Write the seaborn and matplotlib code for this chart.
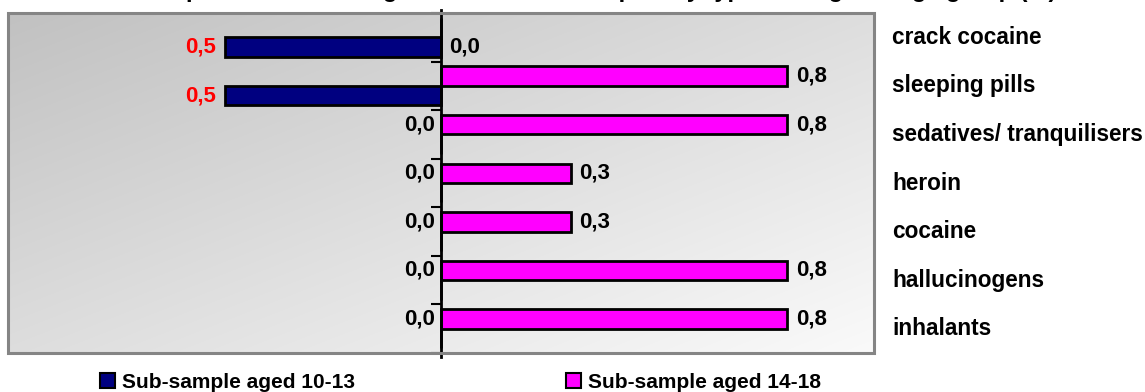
import numpy as np
import pandas as pd
import matplotlib
matplotlib.use("Agg")
import matplotlib.pyplot as plt
import matplotlib.transforms as mtransforms
from matplotlib.patches import Rectangle, Patch
import seaborn as sns

# Drug categories, top to bottom
drugs = ["crack cocaine", "sleeping pills", "sedatives/ tranquilisers",
         "heroin", "cocaine", "hallucinogens", "inhalants"]
# Lifetime prevalence (%) per sub-sample
aged_10_13 = [0.5, 0.5, 0.0, 0.0, 0.0, 0.0, 0.0]
aged_14_18 = [0.0, 0.8, 0.8, 0.3, 0.3, 0.8, 0.8]
group_names = ["Sub-sample aged 10-13", "Sub-sample aged 14-18"]
title = "Lifetime prevalence of drug use in the sub-samples by type of drug and age group (%)"

NAVY = "#000080"
PINK = "#ff00ff"

sns.set_style("white")
plt.rcParams["font.family"] = ["Liberation Sans", "DejaVu Sans"]
plt.rcParams["font.weight"] = "bold"
plt.rcParams["text.color"] = "black"

# Younger group is plotted to the left of the zero line
df = pd.DataFrame({
    "drug": drugs * 2,
    "value": [-v for v in aged_10_13] + list(aged_14_18),
    "group": [group_names[0]] * len(drugs) + [group_names[1]] * len(drugs),
})

fig = plt.figure(figsize=(11.45, 3.92), dpi=100)
ax = fig.add_axes([8 / 1145, 1 - 353 / 392, 866 / 1145, 340 / 392])

# diagonal grey gradient behind the bars: darker top-left, lighter bottom-right
n = 256
xx, yy = np.meshgrid(np.linspace(0, 1, n), np.linspace(0, 1, n))
t = (xx + yy) / 2
lvl = (193 + (250 - 193) * t) / 255
grad = np.dstack([lvl, lvl, lvl])
ax.imshow(grad, extent=[0, 1, 0, 1], origin="upper", transform=ax.transAxes,
          aspect="auto", zorder=0, interpolation="bilinear")

sns.barplot(data=df, y="drug", x="value", hue="group",
            hue_order=[group_names[1], group_names[0]],
            palette={group_names[0]: NAVY, group_names[1]: PINK},
            saturation=1, orient="h", width=0.8, edgecolor="black", linewidth=2,
            legend=False, ax=ax, zorder=3)

ax.set_xlim(-1.0, 1.0)
ax.set_ylim(len(drugs) - 0.5, -0.5)
ax.set_xlabel("")
ax.set_ylabel("")
ax.set_xticks([])

# zero line carrying the category boundary ticks
for s in ["top", "right", "bottom"]:
    ax.spines[s].set_visible(False)
ax.spines["left"].set_position(("data", 0))
ax.spines["left"].set_color("black")
ax.spines["left"].set_linewidth(2)
ax.spines["left"].set_bounds(len(drugs) - 0.42, -0.56)
ax.spines["left"].set_zorder(4)
ax.set_yticks(np.arange(-0.5, len(drugs) + 0.5, 1.0))
ax.set_yticklabels([])
ax.tick_params(axis="y", direction="out", length=7, width=1.5, color="black", left=True)

# plot-area frame
ax.add_patch(Rectangle((0, 0), 1, 1, transform=ax.transAxes, fill=False,
                       edgecolor="#858585", linewidth=2.2, clip_on=False, zorder=5))

fs = 16
for i, (a, b) in enumerate(zip(aged_10_13, aged_14_18)):
    # younger group labels sit left of the bar end
    if a > 0:
        ax.annotate(f"{a:.1f}".replace(".", ","), xy=(-a, i + 0.2), xytext=(-6, 0),
                    textcoords="offset points", ha="right", va="center",
                    fontsize=fs, fontweight="bold", color="red", zorder=6)
    else:
        ax.annotate(f"{a:.1f}".replace(".", ","), xy=(0, i - 0.2), xytext=(-4, 0),
                    textcoords="offset points", ha="right", va="center",
                    fontsize=fs, fontweight="bold", color="black", zorder=6)
    # older group labels sit right of the bar end
    yb = i - 0.2 if b > 0 else i + 0.2
    ax.annotate(f"{b:.1f}".replace(".", ","), xy=(b, yb), xytext=(6, 0),
                textcoords="offset points", ha="left", va="center",
                fontsize=fs, fontweight="bold", color="black", zorder=6)

# category names to the right of the plot area
trans = mtransforms.blended_transform_factory(ax.transAxes, ax.transData)
for i, d in enumerate(drugs):
    ax.text(1.0208, i, d, transform=trans, ha="left", va="center",
            fontsize=16.3, fontweight="bold", color="black", clip_on=False)

# title, largely above the canvas
fig.text(0.5, 1 + 3.5 / 392, title, ha="center", va="baseline",
         fontsize=17, fontweight="bold", color="black")

# legend entries below the plot
leg_pos = [(100 / 1145, NAVY, group_names[0]), (566 / 1145, PINK, group_names[1])]
for xpos, col, name in leg_pos:
    leg = fig.legend(handles=[Patch(facecolor=col, edgecolor="black", linewidth=1.5)],
                     labels=[name], loc="center left",
                     bbox_to_anchor=(xpos, 1 - 382.5 / 392), frameon=False,
                     handlelength=0.7, handleheight=0.7, handletextpad=0.35,
                     borderpad=0, borderaxespad=0,
                     prop={"size": 15, "weight": "bold"})
    for txt in leg.get_texts():
        txt.set_color("black")

fig.savefig("out.png", dpi=100)
